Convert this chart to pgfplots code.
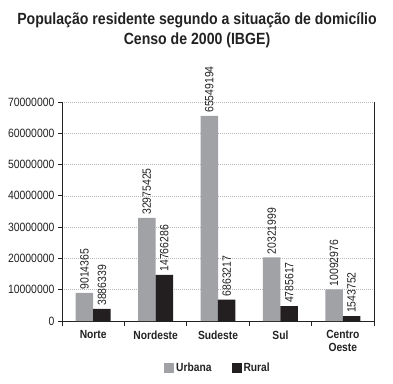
\documentclass[border=0pt]{standalone}
\usepackage{fontspec}
\setmainfont{Liberation Sans}[FakeStretch=0.87]
\usepackage{pgfplots}
\pgfplotsset{compat=1.18}
\definecolor{urb}{HTML}{A0A2A5}
\definecolor{rur}{HTML}{231F20}
\definecolor{axc}{HTML}{222222}
\begin{document}
\begin{tikzpicture}
\path[use as bounding box] (-62pt,-62pt) rectangle (331pt,321pt);
\node[anchor=base,font=\fontsize{16.2}{18}\selectfont\bfseries,text=axc] at (135pt,296pt) {População residente segundo a situação de domicílio};
\node[anchor=base,font=\fontsize{16.2}{18}\selectfont\bfseries,text=axc] at (135pt,276pt) {Censo de 2000 (IBGE)};
\begin{axis}[
 at={(0pt,0pt)}, anchor=south west,
 scale only axis, width=312pt, height=219pt,
 xmin=-0.5, xmax=4.5, ymin=0, ymax=70000000,
 axis x line*=bottom, axis y line*=box, ytick pos=left,
 axis line style={axc, line width=0.8pt},
 xtick={0,1,2,3,4},
 xticklabels={Norte,Nordeste,Sudeste,Sul,{Centro\\Oeste}},
 minor xtick={-0.5,0.5,1.5,2.5,3.5,4.5},
 every major x tick/.append style={draw=none},
 every minor x tick/.append style={axc, line width=0.8pt},
 every major y tick/.append style={axc, line width=0.8pt},
 tick align=outside, major tick length=4pt, minor tick length=5pt,
 ytick={0,10000000,...,70000000},
 scaled y ticks=false,
 /pgf/number format/.cd, fixed, 1000 sep={}, assume math mode=true, /pgfplots/.cd,
 yticklabel style={font=\fontsize{12}{12}\selectfont, text=axc},
 xticklabel style={font=\fontsize{11.8}{13}\selectfont\bfseries, align=center, text=axc, yshift=-2pt},
 ymajorgrids,
 grid style={dash pattern=on 1.2pt off 0.8pt, draw=black!28, line width=0.45pt},
 point meta=explicit symbolic,
 nodes near coords,
 every node near coord/.append style={rotate=90, anchor=west, font=\fontsize{12}{12}\selectfont, text=axc, inner sep=3pt},
 legend style={at={(axis description cs:0.5,-0.2146)}, anchor=center, draw=none, legend columns=2,
   font=\fontsize{11.8}{12}\selectfont\bfseries, text=axc,
   /tikz/every even column/.append style={column sep=18pt}},
 legend image code/.code={\fill[#1] (0pt,-5pt) rectangle (10pt,5pt);},
]
\addplot[ybar, bar width=17.5pt, bar shift=0pt, fill=urb, draw=none] coordinates {
 (-0.14,9014365) [9014365]
 (0.86,32975425) [32975425]
 (1.86,65549194) [65549194]
 (2.86,20321999) [20321999]
 (3.86,10092976) [10092976]
};
\addlegendentry{Urbana}
\addplot[ybar, bar width=17.5pt, bar shift=0pt, fill=rur, draw=none] coordinates {
 (0.14,3886339) [3886339]
 (1.14,14766286) [14766286]
 (2.14,6863217) [6863217]
 (3.14,4785617) [4785617]
 (4.14,1543752) [1543752]
};
\addlegendentry{Rural}
\end{axis}
\end{tikzpicture}
\end{document}
